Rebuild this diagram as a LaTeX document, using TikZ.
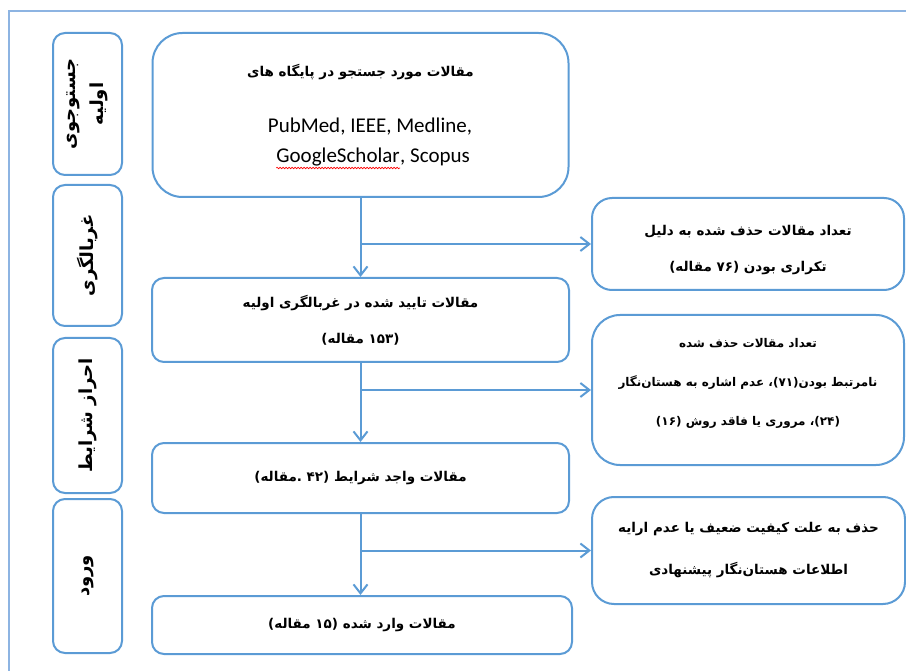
\documentclass[tikz,border=0pt]{standalone}
\usepackage{fontspec}
\setmainfont{Carlito}
\newfontfamily\arabicfont[Script=Arabic]{DejaVu Sans}
\TeXXeTstate=1
\usetikzlibrary{arrows.meta,decorations.pathmorphing}
\definecolor{boxblue}{RGB}{91,155,213}
\definecolor{frameblue}{RGB}{141,180,226}
\newcommand{\fa}[1]{{\arabicfont\bfseries\beginR #1\endR}}

\begin{document}
\begin{tikzpicture}[x=1pt,y=-1pt,
    box/.style={draw=boxblue, line width=2pt, rounded corners=12pt, align=center, inner sep=0pt,
      font=\fontsize{13.5}{36}\selectfont},
    stage/.style={box, rotate=90, minimum height=69pt, font=\fontsize{18}{28}\selectfont},
    flow/.style={draw=boxblue, line width=2pt, -{Straight Barb[length=9pt,width=14pt]}}]
  \useasboundingbox (0,0) rectangle (906,671);
  \draw [frameblue, line width=1.5pt] (906,11) -| (9,671);
  % stages
  \node [stage, minimum width=142pt] (search_st) at (87.5,104) {\fa{جستوجوی}\\ \fa{اولیه}};
  \node [stage, minimum width=141pt] (screen_st) at (87.5,255.5) {\fa{غربالگری}};
  \node [stage, minimum width=155pt] (elig_st) at (87.5,415.5) {\fa{احراز شرایط}};
  \node [stage, minimum width=154pt] (incl_st) at (87.5,576) {\fa{ورود}};
  % main column
  \node [box, rounded corners=30pt, minimum width=416pt, minimum height=164pt] (search) at (360.5,115) {};
  \node [font=\fontsize{13.5}{36}\selectfont] (search_fa) at (360.5,72) {\fa{مقالات مورد جستجو در پایگاه های}};
  \node [font=\fontsize{21}{26}\selectfont] (db_one) at (370,127) {PubMed, IEEE, Medline,};
  \node [font=\fontsize{21}{26}\selectfont, anchor=base east, inner sep=0pt] (gscholar) at (400,163) {GoogleScholar};
  \node [font=\fontsize{21}{26}\selectfont, anchor=base west, inner sep=0pt] (scopus) at (gscholar.base east) {, Scopus};
  \draw [red, line width=0.6pt, decorate, decoration={snake, amplitude=0.8pt, segment length=3pt}]
    ([yshift=-5pt]gscholar.base west) -- ([yshift=-5pt]gscholar.base east);
  \node [box, minimum width=417pt, minimum height=84pt] (screened) at (360.5,320)
    {\fa{مقالات تایید شده در غربالگری اولیه}\\ \fa{(۱۵۳ مقاله)}};
  \node [box, minimum width=417pt, minimum height=70pt] (eligible) at (360.5,478)
    {\fa{مقالات واجد شرایط (۴۲ .مقاله)}};
  \node [box, minimum width=420pt, minimum height=58pt] (included) at (362,625)
    {\fa{مقالات وارد شده (۱۵ مقاله)}};
  % excluded
  \node [box, rounded corners=20pt, minimum width=312pt, minimum height=92pt] (dupes) at (748,244)
    {\mbox{}\\[-14pt] \fa{تعداد مقالات حذف شده به دلیل}\\ \fa{تکراری بودن (۷۶ مقاله)}};
  \node [box, rounded corners=28pt, minimum width=312pt, minimum height=150pt, font=\fontsize{12}{36}\selectfont]
    (irrelevant) at (748,390)
    {\fa{تعداد مقالات حذف شده}\\[3pt] \fa{نامرتبط بودن(۷۱)، عدم اشاره به هستان‌نگار}\\[3pt]
     \fa{(۲۴)، مروری یا فاقد روش (۱۶)}\\[-20pt] \mbox{}};
  \node [box, rounded corners=22pt, minimum width=313pt, minimum height=107pt] (quality) at (748.5,550.5)
    {\fa{حذف به علت کیفیت ضعیف یا عدم ارایه}\\[6pt] \fa{اطلاعات هستان‌نگار پیشنهادی}};
  % arrows
  \draw [flow] (search.south) -- (search.south |- screened.north);
  \draw [flow] (search.south |- dupes.west) -- (dupes.west);
  \draw [flow] (screened.south) -- (screened.south |- eligible.north);
  \draw [flow] (screened.south |- irrelevant.west) -- (irrelevant.west);
  \draw [flow] (eligible.south) -- (eligible.south |- included.north);
  \draw [flow] (eligible.south |- quality.west) -- (quality.west);
\end{tikzpicture}
\end{document}
